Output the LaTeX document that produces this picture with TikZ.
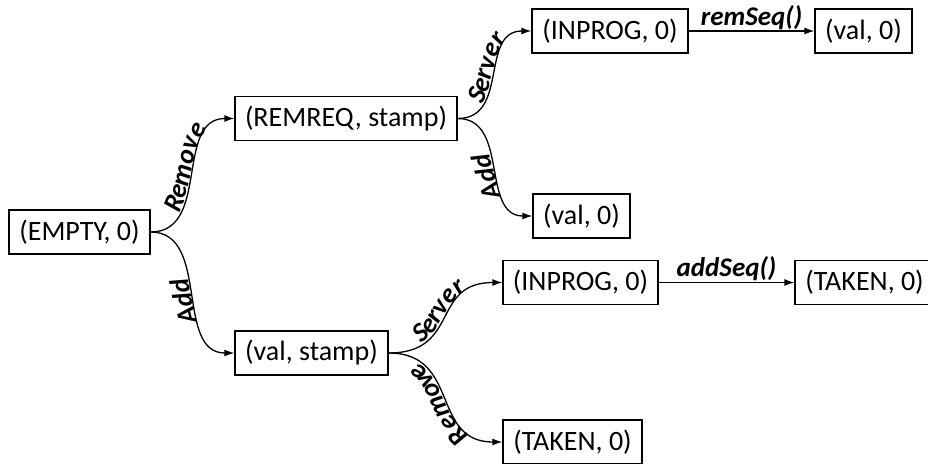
\documentclass[tikz,border=0pt]{standalone}
\usepackage{fontspec}
\setmainfont{Carlito}
\usetikzlibrary{arrows.meta,decorations.text}
\newcommand\lblf{\fontsize{27}{30}\selectfont\bfseries\itshape}
\begin{document}
\begin{tikzpicture}[x=1pt,y=-1pt,
  box/.style={draw,line width=1.3pt,inner sep=0pt,minimum height=44pt,font=\fontsize{28}{32}\selectfont},
  conn/.style={line width=1.3pt,-{Latex[length=10pt,width=7pt]}},
  lbl/.style={font=\lblf,inner sep=1pt},
  curvelbl/.style 2 args={decorate,decoration={text along path,text={|\lblf|#1},text align={center,#2},raise=2pt}},
]
\useasboundingbox (0,0) rectangle (928,463);
\clip (0,0) rectangle (928,463);

\node[box,minimum width=141pt] (empty)    at (79.5,232)  {(EMPTY, 0)};
\node[box,minimum width=222pt] (remreq)   at (346,118.5) {(REMREQ, stamp)};
\node[box,minimum width=156pt] (inprogA)  at (610,31)    {(INPROG, 0)};
\node[box,minimum width=97pt]  (valA)     at (863.5,31)  {(val, 0)};
\node[box,minimum width=97pt]  (valB)     at (581.5,216) {(val, 0)};
\node[box,minimum width=153pt] (valstamp) at (311.5,353) {(val, stamp)};
\node[box,minimum width=155pt] (inprogB)  at (580.5,282.5) {(INPROG, 0)};
\node[box,minimum width=139pt] (takenA)   at (864.5,282.5) {(TAKEN, 0)};
\node[box,minimum width=139pt] (takenB)   at (572.5,442) {(TAKEN, 0)};

% EMPTY -> REMREQ (Remove)
\draw[conn] (empty.east) .. controls +(60,0) and +(-60,0) .. (remreq.west);
\path[curvelbl={Remove}{left indent=8pt}] (empty.east) .. controls +(60,0) and +(-60,0) .. (remreq.west);
% EMPTY -> val,stamp (Add)
\draw[conn] (empty.east) .. controls +(60,0) and +(-60,0) .. (valstamp.west);
\path[curvelbl={Add}{right indent=14pt}] (valstamp.west) .. controls +(-60,0) and +(60,0) .. (empty.east);
% REMREQ -> INPROG (Server)
\draw[conn] (remreq.east) .. controls +(52,0) and +(-52,0) .. (inprogA.west);
\path[curvelbl={Server}{left indent=6pt}] (remreq.east) .. controls +(52,0) and +(-52,0) .. (inprogA.west);
% REMREQ -> val (Add)
\draw[conn] (remreq.east) .. controls +(52,0) and +(-52,0) .. (valB.west);
\path[curvelbl={Add}{right indent=14pt}] (valB.west) .. controls +(-52,0) and +(52,0) .. (remreq.east);
% val,stamp -> INPROG (Server)
\draw[conn] (valstamp.east) .. controls +(72,0) and +(-72,0) .. (inprogB.west);
\path[curvelbl={Server}{}] (valstamp.east) .. controls +(72,0) and +(-72,0) .. (inprogB.west);
% val,stamp -> TAKEN (Remove)
\draw[conn] (valstamp.east) .. controls +(72,0) and +(-72,0) .. (takenB.west);
\path[curvelbl={Remove}{}] (takenB.west) .. controls +(-72,0) and +(72,0) .. (valstamp.east);

% straight arrows
\draw[conn] (inprogA) -- node[lbl,above] {remSeq()} (valA);
\draw[conn] (inprogB) -- node[lbl,above] {addSeq()} (takenA);
\end{tikzpicture}
\end{document}
